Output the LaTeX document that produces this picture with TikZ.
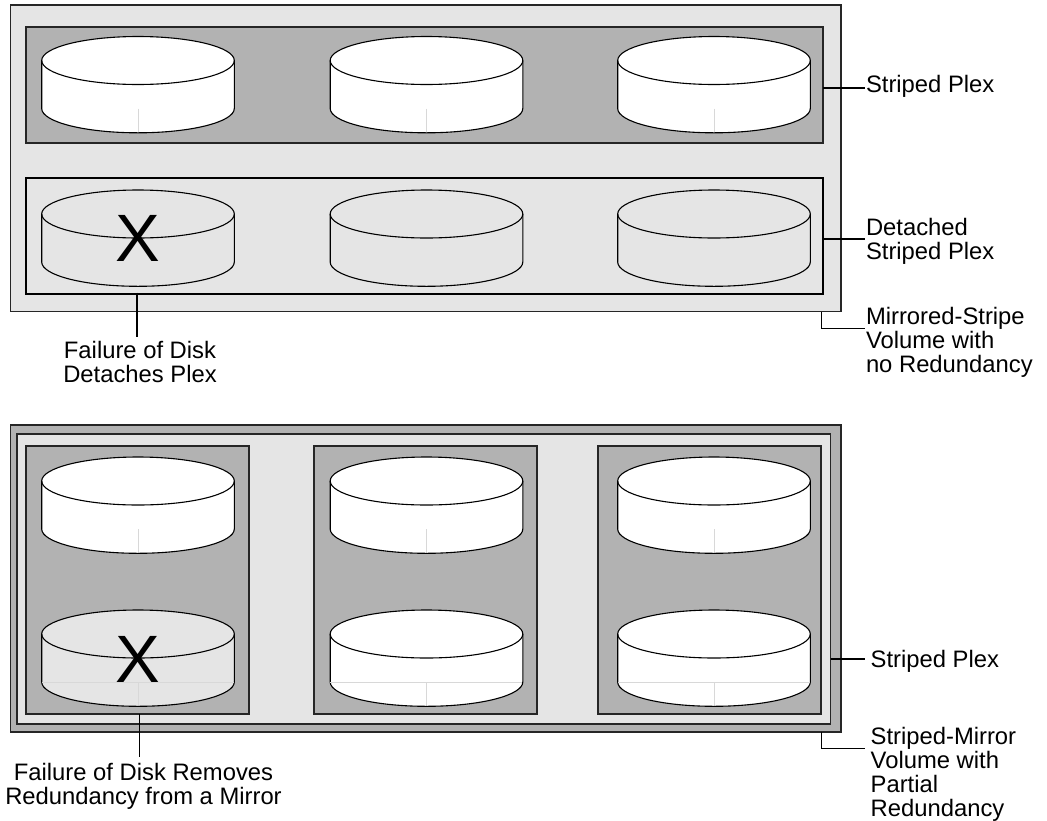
\documentclass[tikz,border=0pt]{standalone}
\usepackage{fontspec}
\setmainfont{Liberation Sans}
\definecolor{darkg}{HTML}{B2B2B2}
\definecolor{lightg}{HTML}{E5E5E5}
\definecolor{faint}{HTML}{D8D8D8}
\tikzset{
  box/.style={draw=black!85,line width=1.3pt,inner sep=0pt,outer sep=0pt,anchor=north west},
  thinbox/.style={box,draw=black,line width=1.25pt},
  lbl/.style={inner sep=0pt,outer sep=0pt,align=left,anchor=base west,font=\fontsize{23.8}{24}\selectfont},
  lblc/.style={lbl,align=center,anchor=base},
  lead/.style={draw=black,line width=1.5pt},
  xmark/.style={inner sep=0pt,font=\fontsize{67}{67}\selectfont,anchor=base},
  diskline/.style={draw=black,line width=1.1pt},
}
\newcommand{\mydisk}[4]{%
  \fill[#3] (#1-96.3,#2) -- (#1-96.3,#2+48) arc[start angle=180,end angle=0,x radius=96.3,y radius=24.3] -- (#1+96.3,#2) -- cycle;
  \fill[#3] (#1,#2) ellipse[x radius=96.3,y radius=24];
  \draw[#4,line width=0.5pt] (#1,#2+48) -- (#1,#2+72);
  \draw[diskline] (#1,#2) ellipse[x radius=96.3,y radius=24];
  \draw[diskline] (#1-96.3,#2) -- (#1-96.3,#2+48) arc[start angle=180,end angle=0,x radius=96.3,y radius=24.3] -- (#1+96.3,#2);
}
\begin{document}
\begin{tikzpicture}[x=1pt,y=-1pt]
\useasboundingbox (0,0) rectangle (1047,820);
\fill[white] (0,0) rectangle (1047,820);
% top
\node[box,fill=lightg,minimum width=830.5pt,minimum height=306.5pt] (volA) at (10.5,5) {};
\node[box,fill=darkg,minimum width=797pt,minimum height=116pt] (plexA) at (26,27) {};
\node[thinbox,fill=lightg,minimum width=797pt,minimum height=116pt] (plexB) at (26,178) {};
\mydisk{138}{60.5}{white}{faint}
\mydisk{426.5}{60.5}{white}{faint}
\mydisk{714}{60.5}{white}{faint}
\mydisk{138}{214}{lightg}{lightg}
\mydisk{426.5}{214}{lightg}{lightg}
\mydisk{714}{214}{lightg}{lightg}
\node[xmark] (xa) at (138,261) {X};
% bottom
\node[box,fill=darkg,minimum width=830.5pt,minimum height=307pt] (volB) at (10.5,425) {};
\node[box,fill=lightg,minimum width=813.7pt,minimum height=290pt] (inner) at (17,434) {};
\node[box,fill=darkg,minimum width=223pt,minimum height=268pt] (colA) at (26,446) {};
\node[box,fill=darkg,minimum width=223pt,minimum height=268pt] (colB) at (314,446) {};
\node[box,fill=darkg,minimum width=223pt,minimum height=268pt] (colC) at (598,446) {};
\mydisk{138}{481}{white}{faint}
\mydisk{426.5}{481}{white}{faint}
\mydisk{714}{481}{white}{faint}
\mydisk{138}{634}{lightg}{faint}
\mydisk{426.5}{634}{white}{faint}
\mydisk{714}{634}{white}{faint}
\draw[faint,line width=0.5pt] (42,682) -- (234,682);
\draw[faint,line width=0.5pt] (330,682) -- (522,682);
\draw[faint,line width=0.5pt] (618,682) -- (810,682);
\node[xmark] (xb) at (138,682) {X};
% labels
\node[lbl] (t1) at (866,92.3) {Striped Plex};
\node[lbl] (t2) at (866,259) {Detached\\Striped Plex};
\node[lbl] (t3) at (866,372) {Mirrored-Stripe\\Volume with\\no Redundancy};
\node[lblc] (t4) at (140,382) {Failure of Disk\\Detaches Plex};
\node[lbl] (t5) at (870.7,667) {Striped Plex};
\node[lbl] (t6) at (870.7,816) {Striped-Mirror\\Volume with\\Partial\\Redundancy};
\node[lblc] (t7) at (143.5,804) {Failure of Disk Removes\\Redundancy from a Mirror};
% leaders
\coordinate (c1) at (865,88);
\coordinate (c2) at (865,239);
\coordinate (c3) at (865,328.5);
\coordinate (c3a) at (821.7,311.5);
\coordinate (c4) at (137,337);
\coordinate (c4a) at (137,292.5);
\coordinate (c5) at (865,659);
\coordinate (c6) at (865,748.5);
\coordinate (c6a) at (821.7,732);
\coordinate (c7) at (139.5,757);
\coordinate (c7a) at (139.5,714);
\draw[lead] (plexA.east |- c1) -- (c1);
\draw[lead] (plexB.east |- c2) -- (c2);
\draw[lead] (c3a) |- (c3);
\draw[lead] (c4a) -- (c4);
\draw[lead] (inner.east |- c5) -- (c5);
\draw[lead] (c6a) |- (c6);
\draw[lead] (c7a) -- (c7);
\end{tikzpicture}
\end{document}
